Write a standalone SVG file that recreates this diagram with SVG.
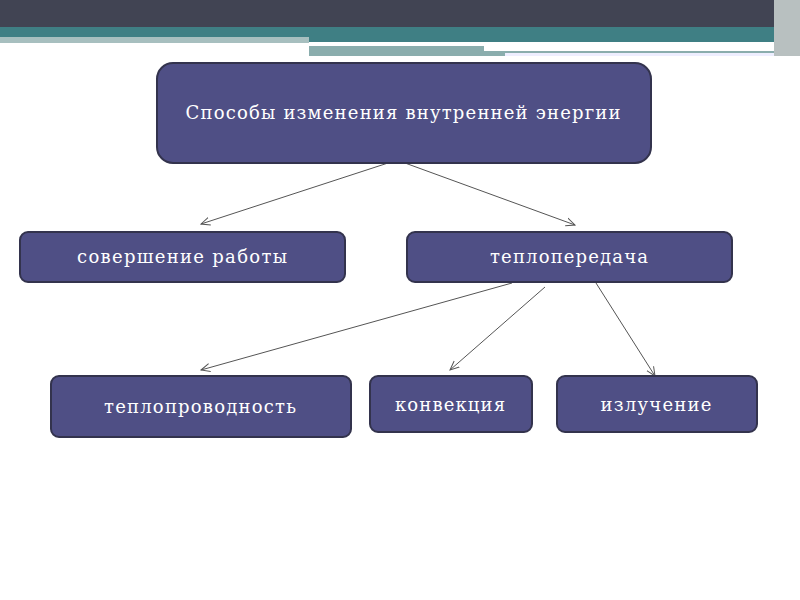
<svg xmlns="http://www.w3.org/2000/svg" width="800" height="600" viewBox="0 0 800 600">
<defs>
<marker id="a" viewBox="0 0 10 10" refX="9" refY="5" markerWidth="10" markerHeight="10" markerUnits="userSpaceOnUse" orient="auto"><path d="M0,1 L9,5 L0,9" fill="none" stroke="#555" stroke-width="1"/></marker>
<style>
.n{fill:#4f4f85;stroke:#33334d;stroke-width:2}
.t{fill:#fff;font-family:"DejaVu Serif","Liberation Serif",serif;font-size:18px;text-anchor:middle}
.c{stroke:#555;stroke-width:1;fill:none;marker-end:url(#a)}
</style>
</defs>
<rect width="800" height="600" fill="#fff"/>
<rect x="0" y="0" width="800" height="27" fill="#414453"/>
<rect x="0" y="27" width="800" height="10" fill="#3f7f84"/>
<rect x="0" y="37" width="309" height="6" fill="#a7bfbf"/>
<rect x="309" y="37" width="491" height="5" fill="#3f7f84"/>
<rect x="309" y="46" width="175" height="10" fill="#8aadad"/>
<rect x="484" y="51" width="300" height="5" fill="#8aadad"/>
<rect x="505" y="53" width="280" height="3" fill="#eef"/>
<rect x="774" y="0" width="26" height="56" fill="#b8c0c0"/>
<g id="connectors">
<line class="c" x1="388" y1="163" x2="201" y2="224"/>
<line class="c" x1="405" y1="163" x2="575" y2="225"/>
<line class="c" x1="512" y1="283" x2="201" y2="370"/>
<line class="c" x1="545" y1="287" x2="450" y2="370"/>
<line class="c" x1="596" y1="283" x2="655" y2="376"/>
</g>
<g id="n1"><rect class="n" x="157" y="63" width="494" height="100" rx="16"/><text class="t" x="403" y="119" textLength="435" lengthAdjust="spacing">Способы изменения внутренней энергии</text></g>
<g id="n2"><rect class="n" x="20" y="232" width="325" height="50" rx="8"/><text class="t" x="182" y="263" textLength="210" lengthAdjust="spacing">совершение работы</text></g>
<g id="n3"><rect class="n" x="407" y="232" width="325" height="50" rx="8"/><text class="t" x="569" y="263" textLength="158" lengthAdjust="spacing">теплопередача</text></g>
<g id="n4"><rect class="n" x="51" y="376" width="300" height="61" rx="8"/><text class="t" x="200" y="413" textLength="192" lengthAdjust="spacing">теплопроводность</text></g>
<g id="n5"><rect class="n" x="370" y="376" width="162" height="56" rx="8"/><text class="t" x="450" y="411" textLength="110" lengthAdjust="spacing">конвекция</text></g>
<g id="n6"><rect class="n" x="557" y="376" width="200" height="56" rx="8"/><text class="t" x="656" y="411" textLength="111" lengthAdjust="spacing">излучение</text></g>
</svg>
